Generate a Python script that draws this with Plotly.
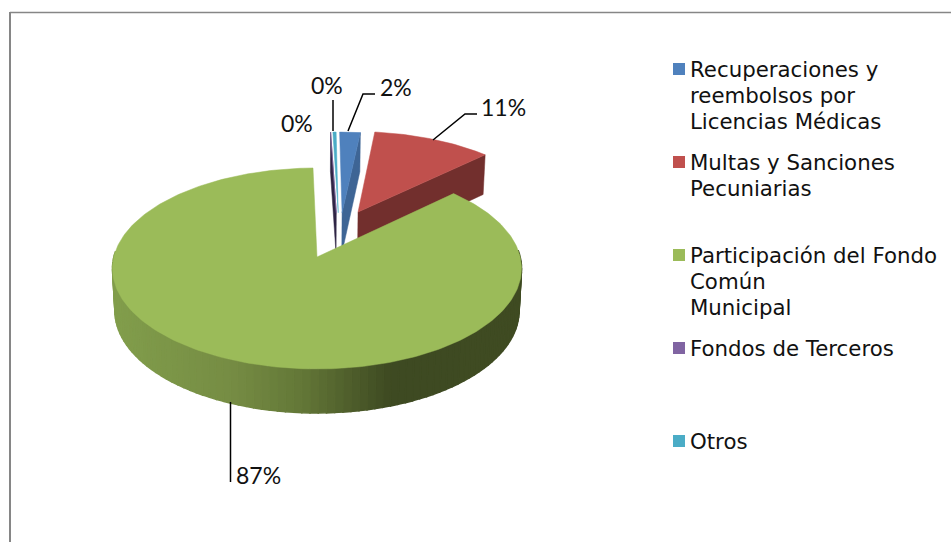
import math
import plotly.graph_objects as go

# ---- data ----
CATEGORIES = [["Recuperaciones y", "reembolsos por", "Licencias Médicas"],
              ["Multas y Sanciones", "Pecuniarias"],
              ["Participación del Fondo", "Común", "Municipal"],
              ["Fondos de Terceros"],
              ["Otros"]]
VALUES = [1.9, 11.0, 86.75, 0.05, 0.3]
COLORS = ["#4F81BD", "#C0504D", "#9BBB59", "#8064A2", "#4BACC6"]
WALLS = ["#3E6595", "#722F2D", "#3F4A22", "#2F2545", "#2F7F95"]

# ---- layout / projection constants ----
W, H = 951, 542
CX, CY = 317.0, 257.0
A, B, K = 99.2, 203.2, 0.114
OFFSET = [(0.13, 0.47), (0.213, 0.478), (0.0, 0.0), (0.10, 0.47), (0.11, 0.47)]
LEGEND_X = 679
LEGEND_Y = [69, 162, 255, 348, 441]
LINE_PITCH = 26


def project(u, v):
    d = 1 + K * v
    return CX + B * u / d, CY - A * v / d


def drop(p, v):
    return CX + (p[0] - CX) * 0.988, p[1] + 42 - 2 * v


def arc(off, a0, a1, n):
    return [(off[0] + math.sin(a0 + (a1 - a0) * i / n),
             off[1] + math.cos(a0 + (a1 - a0) * i / n)) for i in range(n + 1)]


def poly(fig, pts, color, lw=0.5):
    xs = [p[0] for p in pts] + [pts[0][0]]
    ys = [p[1] for p in pts] + [pts[0][1]]
    fig.add_trace(go.Scatter(x=xs, y=ys, mode="lines", fill="toself", fillcolor=color,
                             line=dict(color=color, width=lw), hoverinfo="skip",
                             showlegend=False))


def mix(c0, c1, t):
    return "rgb(%d,%d,%d)" % tuple(c0[i] + (c1[i] - c0[i]) * t for i in range(3))


def wall_color(x):
    stops = [(112, (130, 158, 76)), (230, (118, 141, 68)), (300, (100, 120, 56)),
             (390, (62, 74, 34)), (530, (64, 76, 35))]
    for (x0, c0), (x1, c1) in zip(stops, stops[1:]):
        if x <= x1:
            return mix(c0, c1, max(0, (x - x0) / (x1 - x0)))
    return mix(stops[-1][1], stops[-1][1], 0)


fig = go.Figure()

total = sum(VALUES)
fracs = []
acc = 0.0
for val in VALUES:
    fracs.append((acc / total, (acc + val) / total))
    acc += val

# cut-face walls of the exploded small slices
for idx, side in ((3, 0), (0, 1), (1, 1)):
    f0, f1 = fracs[idx]
    ang = 2 * math.pi * (f0 if side == 0 else f1)
    ou, ov = OFFSET[idx]
    outer_u, outer_v = ou + math.sin(ang), ov + math.cos(ang)
    ptop0, ptop1 = project(ou, ov), project(outer_u, outer_v)
    poly(fig, [ptop0, ptop1, drop(ptop1, outer_v), drop(ptop0, ov)], WALLS[idx])

# top faces of the small slices
for idx in (3, 4, 0, 1):
    f0, f1 = fracs[idx]
    off = OFFSET[idx]
    pts = [project(*off)] + [project(*q) for q in arc(off, 2 * math.pi * f0, 2 * math.pi * f1, 40)]
    poly(fig, pts, COLORS[idx])

# big slice: side wall as thin bands, then top
f0, f1 = fracs[2]
off = OFFSET[2]
rim = arc(off, 2 * math.pi * f0, 2 * math.pi * f1, 150)
for q0, q1 in zip(rim, rim[1:]):
    if q0[1] > 0.05 and q1[1] > 0.05:
        continue
    p0, p1 = project(*q0), project(*q1)
    poly(fig, [p0, p1, drop(p1, q1[1]), drop(p0, q0[1])], wall_color((p0[0] + p1[0]) / 2), lw=1.5)
poly(fig, [project(*off)] + [project(*q) for q in arc(off, 2 * math.pi * f0, 2 * math.pi * f1, 300)],
     COLORS[2])

# leader lines
LEADERS = [([348, 363, 375], [131, 94, 94]),
           ([433, 465, 477], [140, 114, 114]),
           ([333, 333], [131, 100]),
           ([230.5, 230.5], [402, 482])]
for lx, ly in LEADERS:
    fig.add_trace(go.Scatter(x=lx, y=ly, mode="lines", line=dict(color="#000000", width=1.5),
                             hoverinfo="skip", showlegend=False))

# legend squares
fig.add_trace(go.Scatter(x=[LEGEND_X] * len(CATEGORIES), y=LEGEND_Y, mode="markers",
                         marker=dict(symbol="square", size=12, color=COLORS, line=dict(width=0)),
                         hoverinfo="skip", showlegend=False))

annotations = []
for lines, y0 in zip(CATEGORIES, LEGEND_Y):
    for i, line in enumerate(lines):
        annotations.append(dict(x=688, y=y0 + i * LINE_PITCH, text=line, xref="x", yref="y",
                                xanchor="left", yanchor="middle", align="left", showarrow=False,
                                font=dict(family="DejaVu Sans", size=21.3, color="#111111")))

LABEL_POS = [(396, 87), (503, 107), (258, 475), (297, 123), (327, 85)]
for val, (x, y) in zip(VALUES, LABEL_POS):
    annotations.append(dict(x=x, y=y, text="%d%%" % round(val), xref="x", yref="y", xanchor="center",
                            yanchor="middle", showarrow=False,
                            font=dict(family="Lato", size=23, color="#111111")))

shapes = [dict(type="line", xref="x", yref="y", x0=10, x1=W, y0=12.5, y1=12.5,
               line=dict(color="#868686", width=1.5)),
          dict(type="line", xref="x", yref="y", x0=10, x1=10, y0=12, y1=H,
               line=dict(color="#868686", width=2))]

fig.update_layout(width=W, height=H, margin=dict(l=0, r=0, t=0, b=0), autosize=False,
                  paper_bgcolor="white", plot_bgcolor="white", showlegend=False,
                  xaxis=dict(range=[0, W], visible=False, fixedrange=True),
                  yaxis=dict(range=[H, 0], visible=False, fixedrange=True),
                  annotations=annotations, shapes=shapes)

fig.write_html("out.html", config={"displayModeBar": False},
               post_script="document.body.style.margin='0';document.body.style.overflow='hidden';")
